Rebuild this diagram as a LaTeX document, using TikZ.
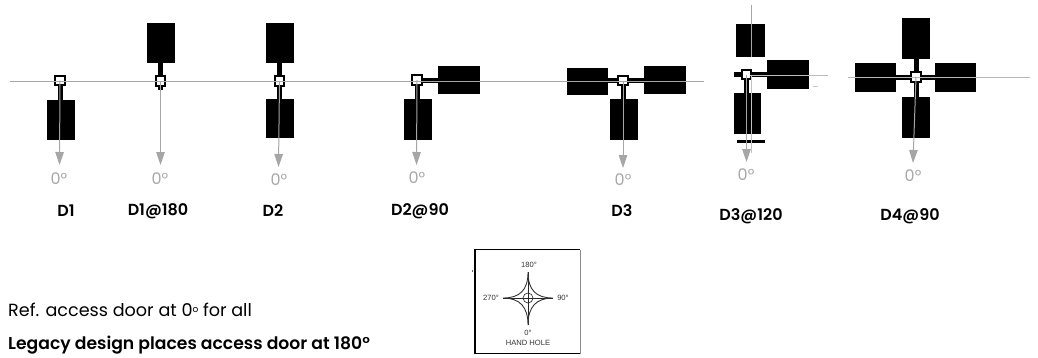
\documentclass[tikz,border=0pt]{standalone}
\usepackage{fontspec}
\setmainfont[BoldFont={Poppins SemiBold}]{Poppins}
\newfontfamily\smallfont{Liberation Sans}
\usetikzlibrary{arrows.meta}
\definecolor{axisgrey}{HTML}{A6A6A6}
\definecolor{zerogrey}{HTML}{A8A8A8}
\newcommand{\blade}[5]{%
  \node[bladebox,minimum width={(#4)-(#2)},minimum height={(#5)-(#3)}] (#1) at ({((#2)+(#4))/2},{((#3)+(#5))/2}) {};}
\tikzset{
  bladebox/.style={fill=black,draw=none,inner sep=0pt,outer sep=0pt,rectangle},
  hubbox/.style={fill=white,draw=black,line width=1.7pt,minimum size=9.5pt,inner sep=0pt,outer sep=0pt,rectangle},
  stem/.style={draw=black,line width=5pt},
  axisline/.style={draw=axisgrey,line width=1pt},
  dooraxis/.style={draw=axisgrey,line width=1pt,-{Triangle[length=13pt,width=8.5pt,fill=axisgrey]}},
  zerolabel/.style={text=zerogrey,font=\fontsize{16}{18}\selectfont,inner sep=0pt},
  namelabel/.style={text=black,font=\fontsize{16}{18}\selectfont\bfseries,inner sep=0pt},
  notelabel/.style={text=black,anchor=west,inner sep=0pt},
  handtext/.style={text=black!80,font=\smallfont\fontsize{7.6}{8}\selectfont,inner sep=0pt},
}
\begin{document}
\begin{tikzpicture}[x=1pt,y=-1pt]
\useasboundingbox (0,0) rectangle (1038,357);
% blades
\blade{aS}{46.5}{99.5}{74.5}{140}
\blade{bN}{146.5}{23}{174.5}{62.5}
\blade{cN}{265.5}{23}{293.5}{62.5}
\blade{cS}{265.5}{98.5}{293.5}{138}
\blade{dE}{437.5}{65.5}{480}{94}
\blade{dS}{403.5}{99}{432}{140}
\blade{eW}{567}{67.5}{608}{95}
\blade{eE}{643.5}{65.5}{686}{94}
\blade{eS}{609.5}{99}{638}{140}
\blade{fN}{735.5}{23.5}{764.5}{57}
\blade{fE}{766.5}{59.5}{809}{88.5}
\blade{fS}{734}{93}{761}{134}
\blade{fB}{737}{140}{765}{142.5}
\blade{gN}{902}{17.5}{930}{58.5}
\blade{gW}{855}{63}{896}{91.5}
\blade{gE}{935}{63}{976}{91.5}
\blade{gS}{902}{97}{930}{138}
% hub positions
\coordinate (a) at (60,80.5);
\coordinate (b) at (160.5,81);
\coordinate (c) at (279.5,81);
\coordinate (d) at (417,80);
\coordinate (e) at (623,80.5);
\coordinate (f) at (746.5,74.5);
\coordinate (g) at (916,77);
\coordinate (bstub) at (160.5,90);
\coordinate (fstub) at (734,74.5);
% stems
\draw[stem] (a) -- (a |- aS.north);
\draw[stem] (b) -- (b |- bN.south);
\draw[stem] (b) -- (bstub);
\draw[stem] (c) -- (c |- cN.south);
\draw[stem] (c) -- (c |- cS.north);
\draw[stem] (d) -- (d |- dS.north);
\draw[stem] (d) -- (d -| dE.west);
\draw[stem] (e) -- (e |- eS.north);
\draw[stem] (e) -- (e -| eW.east);
\draw[stem] (e) -- (e -| eE.west);
\draw[stem] (f) -- (f |- fS.north);
\draw[stem] (f) -- (f -| fE.west);
\draw[stem] (f) -- (fstub);
\draw[stem] (g) -- (g |- gN.south);
\draw[stem] (g) -- (g |- gS.north);
\draw[stem] (g) -- (g -| gW.east);
\draw[stem] (g) -- (g -| gE.west);
% hubs
\node[hubbox] (ha) at (a) {};
\node[hubbox] (hb) at (b) {};
\node[hubbox] (hc) at (c) {};
\node[hubbox] (hd) at (d) {};
\node[hubbox] (he) at (e) {};
\node[hubbox] (hf) at (f) {};
\node[hubbox] (hg) at (g) {};
% reference axes
\coordinate (axL) at (10,81);
\coordinate (axR) at (704,81);
\draw[axisline] (axL) -- (axR);
\coordinate (fhL) at (750,75);
\coordinate (fhR) at (828,75);
\draw[axisline,draw=axisgrey!75] (fhL) -- (fhR);
\coordinate (fvT) at (751,5);
\coordinate (fvM) at (751,57);
\draw[axisline] (fvT) -- (fvM);
\coordinate (fvA) at (751,75);
\coordinate (fvB) at (751,153);
\draw[axisline,draw=axisgrey!70] (fvA) -- (fvB);
\coordinate (fdL) at (813,86);
\coordinate (fdR) at (818,86);
\draw[axisline,draw=axisgrey!60] (fdL) -- (fdR);
\coordinate (ghL) at (848,77);
\coordinate (ghR) at (1030,77);
\draw[axisline,draw=axisgrey!80] (ghL) -- (ghR);
% door arrows
\coordinate (ta) at (59.5,165);
\coordinate (tb) at (160.5,165);
\coordinate (tc) at (278.5,167);
\coordinate (td) at (416.5,165);
\coordinate (te) at (623,168);
\coordinate (tf) at (746.5,162);
\coordinate (tg) at (913,163);
\draw[dooraxis] (ha.center) -- (ta);
\draw[dooraxis] (hb.center) -- (tb);
\draw[dooraxis] (hc.center) -- (tc);
\draw[dooraxis] (hd.center) -- (td);
\draw[dooraxis] (he.center) -- (te);
\draw[dooraxis] (hf.center) -- (tf);
\draw[dooraxis] (hg.center) -- (tg);
% zero labels
\node[zerolabel] (za) at (59,179) {0°};
\node[zerolabel] (zb) at (160,179) {0°};
\node[zerolabel] (zc) at (279,180) {0°};
\node[zerolabel] (zd) at (417,178) {0°};
\node[zerolabel] (ze) at (623,180) {0°};
\node[zerolabel] (zf) at (746,175) {0°};
\node[zerolabel] (zg) at (913,176) {0°};
% names
\node[namelabel] (na) at (66,211) {D1};
\node[namelabel] (nb) at (158,211) {D1@180};
\node[namelabel] (nc) at (273,211) {D2};
\node[namelabel] (nd) at (420,211) {D2@90};
\node[namelabel] (ne) at (622,211) {D3};
\node[namelabel] (nf) at (751,216) {D3@120};
\node[namelabel] (ng) at (910,216) {D4@90};
% notes
\node[notelabel,font=\fontsize{17.6}{20}\selectfont] (note1) at (8,310) {Ref. access door at 0\raisebox{4.5pt}{\fontsize{9}{10}\selectfont o} for all};
\node[notelabel,font=\fontsize{17.2}{20}\selectfont\bfseries] (note2) at (8,345) {Legacy design places access door at 180°};
% hand hole inset
\coordinate (hhTL) at (475,249.5);
\coordinate (hhTR) at (580,249.5);
\coordinate (hhBL) at (475,353.5);
\coordinate (hhBR) at (580,353.5);
\draw[black!45,line width=0.6pt] (hhTR) -- (hhBR);
\draw[black,line width=1.3pt] (hhBR) -- (hhBL) -- (hhTL) -- (hhTR);
\coordinate (hmA) at (472,270);
\coordinate (hmB) at (472,272);
\draw[black!60,line width=0.6pt] (hmA) -- (hmB);
\coordinate (hc0) at (528,298);
\coordinate (hN) at (528,272);
\coordinate (hS) at (528,325);
\coordinate (hW) at (503,298);
\coordinate (hE) at (553,298);
\draw[black!85,line width=0.9pt] (hN) -- (hS) (hW) -- (hE);
\draw[black!80,line width=0.9pt] (hN) .. controls (528,290) and (536,298) .. (hE)
  .. controls (536,298) and (528,307) .. (hS)
  .. controls (528,307) and (520,298) .. (hW)
  .. controls (520,298) and (528,290) .. (hN);
\node[draw=black!80,circle,line width=0.7pt,minimum size=10pt,inner sep=0pt] (hcirc) at (hc0) {};
\node[handtext] (h180) at (529,265) {180°};
\node[handtext] (h270) at (491,298) {270°};
\node[handtext] (h90) at (563,298) {90°};
\node[handtext] (h0) at (528,332.5) {0°};
\node[handtext] (hhl) at (528,343) {HAND HOLE};
\end{tikzpicture}
\end{document}
